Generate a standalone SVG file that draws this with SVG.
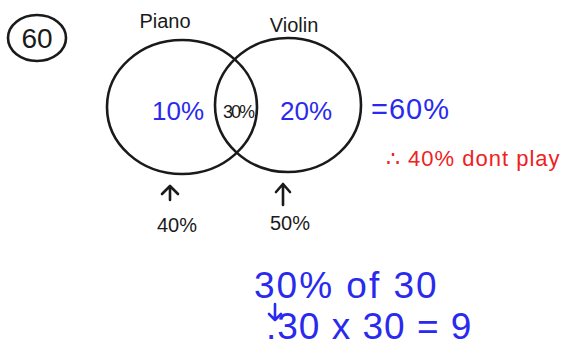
<svg xmlns="http://www.w3.org/2000/svg" width="581" height="349" viewBox="0 0 581 349">
<style>
.ln{fill:none;stroke:#1a1a1a;stroke-width:2.6;stroke-linecap:round;stroke-linejoin:round}
.bk{font-family:"Liberation Sans",Arial,sans-serif;fill:#1a1a1a}
.bl{font-family:"Liberation Sans",Arial,sans-serif;fill:#2a2aee}
.rd{font-family:"Liberation Sans",Arial,sans-serif;fill:#ee2222}
</style>
<rect width="581" height="349" fill="#ffffff"/>
<g id="num">
<ellipse class="ln" cx="37" cy="38" rx="29" ry="23"/>
<text class="bk" x="37" y="48" font-size="28" text-anchor="middle">60</text>
</g>
<g id="piano">
<ellipse class="ln" cx="182" cy="107" rx="75" ry="67"/>
<text class="bk" x="165" y="28" font-size="20" text-anchor="middle">Piano</text>
<text class="bl" x="178" y="120" font-size="26" text-anchor="middle">10%</text>
</g>
<g id="violin">
<ellipse class="ln" cx="288" cy="105" rx="73" ry="67"/>
<text class="bk" x="294" y="32" font-size="20" text-anchor="middle">Violin</text>
<text class="bl" x="306" y="120" font-size="26" text-anchor="middle">20%</text>
</g>
<g id="both">
<text class="bk" x="238" y="118" font-size="18" text-anchor="middle" letter-spacing="-2">30%</text>
</g>
<g id="total">
<text class="bl" x="371" y="119" font-size="29" letter-spacing="1">=60%</text>
<text class="rd" x="386" y="166" font-size="22" letter-spacing="1">∴ 40% dont play</text>
</g>
<g id="connectors">
<path class="ln" d="M170,200 V186 M162,194 L170,186 L178,194"/>
<path class="ln" d="M283,205 V184 M276,192 L283,184 L290,192"/>
<path d="M275,304 V320 M269,314 L275,320 L281,314" fill="none" stroke="#2a2aee" stroke-width="2.6" stroke-linecap="round" stroke-linejoin="round"/>
</g>
<g id="labels">
<text class="bk" x="177" y="232" font-size="20" text-anchor="middle">40%</text>
<text class="bk" x="290" y="230" font-size="20" text-anchor="middle">50%</text>
<text class="bl" x="254" y="298" font-size="37" letter-spacing="2">30% of 30</text>
<text class="bl" x="266" y="339" font-size="37" letter-spacing="1">.30 x 30 = 9</text>
</g>
</svg>
